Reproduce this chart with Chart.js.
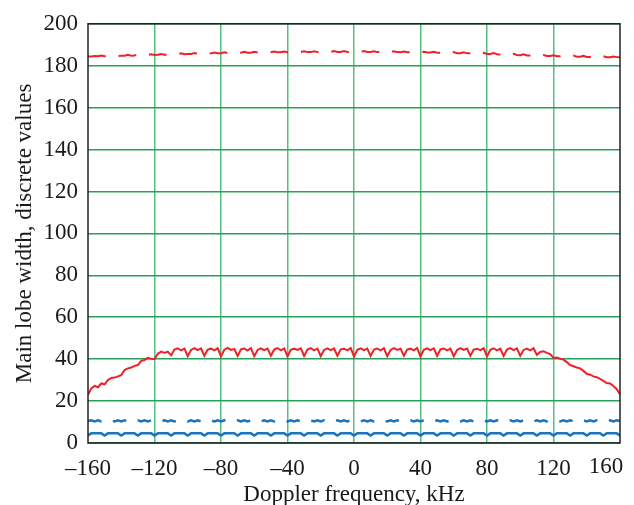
<!DOCTYPE html>
<html>
<head>
  <title>Main lobe width</title>
  <script src="https://cdn.jsdelivr.net/npm/chart.js"></script>
  <style>
    body {
      margin: 0;
      padding: 0;
      background-color: white;
    }

    .container {
      width: 634px;
      height: 505px;
    }
  </style>
</head>
<body>
  <div class="container">
    <canvas id="lobeChart" width="634" height="505"></canvas>
  </div>
  <script>
    // Doppler frequency grid, kHz
    const freq = [
      -160, -158, -156, -154, -152, -150, -148, -146, -144, -142,
      -140, -138, -136, -134, -132, -130, -128, -126, -124, -122,
      -120, -118, -116, -114, -112, -110, -108, -106, -104, -102,
      -100, -98, -96, -94, -92, -90, -88, -86, -84, -82,
      -80, -78, -76, -74, -72, -70, -68, -66, -64, -62,
      -60, -58, -56, -54, -52, -50, -48, -46, -44, -42,
      -40, -38, -36, -34, -32, -30, -28, -26, -24, -22,
      -20, -18, -16, -14, -12, -10, -8, -6, -4, -2,
      0, 2, 4, 6, 8, 10, 12, 14, 16, 18,
      20, 22, 24, 26, 28, 30, 32, 34, 36, 38,
      40, 42, 44, 46, 48, 50, 52, 54, 56, 58,
      60, 62, 64, 66, 68, 70, 72, 74, 76, 78,
      80, 82, 84, 86, 88, 90, 92, 94, 96, 98,
      100, 102, 104, 106, 108, 110, 112, 114, 116, 118,
      120, 122, 124, 126, 128, 130, 132, 134, 136, 138,
      140, 142, 144, 146, 148, 150, 152, 154, 156, 158,
      160
    ];

    // red dashed, upper curve
    const redDashed = [
      184.4, 184.4, 184.6, 184.5, 184.9, 184.5, 184.5, 184.6, 185.0, 184.6,
      184.7, 184.8, 185.2, 184.8, 184.9, 185.4, 185.0, 185.0, 185.1, 185.5,
      185.1, 185.2, 185.6, 185.2, 185.3, 185.7, 185.3, 185.4, 185.9, 185.5,
      185.6, 185.6, 186.0, 185.7, 185.8, 186.2, 185.8, 185.9, 186.3, 186.0,
      186.0, 186.4, 186.0, 186.1, 186.5, 186.1, 186.2, 186.6, 186.2, 186.2,
      186.6, 186.3, 186.3, 186.7, 186.3, 186.4, 186.8, 186.4, 186.4, 186.8,
      186.4, 186.5, 186.9, 186.5, 186.5, 186.9, 186.5, 186.5, 186.9, 186.5,
      186.6, 187.0, 186.6, 186.6, 187.0, 186.6, 186.6, 187.0, 186.6, 186.6,
      187.0, 186.6, 186.6, 187.0, 186.6, 186.6, 186.9, 186.5, 186.5, 186.9,
      186.5, 186.5, 186.9, 186.5, 186.4, 186.8, 186.4, 186.4, 186.8, 186.4,
      186.3, 186.7, 186.3, 186.3, 186.6, 186.2, 186.2, 186.6, 186.1, 186.1,
      186.5, 186.0, 186.0, 186.4, 185.9, 185.9, 186.3, 185.8, 185.7, 186.2,
      185.6, 185.6, 186.0, 185.5, 185.4, 185.8, 185.3, 185.2, 185.7, 185.1,
      185.0, 185.4, 184.9, 184.9, 185.3, 184.8, 184.7, 185.1, 184.6, 184.6,
      185.0, 184.5, 184.5, 184.9, 184.4, 184.4, 184.8, 184.3, 184.3, 184.7,
      184.2, 184.2, 184.6, 184.2, 184.1, 184.5, 184.1, 184.1, 184.4, 184.1,
      184.0
    ];

    // red solid, middle curve
    const redSolid = [
      23.0, 26.0, 27.2, 26.6, 28.4, 28.0, 30.0, 31.0, 31.2, 31.8,
      32.4, 34.8, 35.6, 36.0, 36.8, 37.2, 39.2, 39.6, 40.6, 40.2,
      40.0, 42.6, 43.6, 43.0, 43.6, 41.8, 44.6, 45.2, 44.2, 45.0,
      41.4, 44.4, 45.3, 44.3, 45.1, 41.6, 44.6, 45.0, 44.2, 45.2,
      41.3, 44.5, 45.4, 44.4, 44.9, 41.5, 44.7, 45.1, 44.1, 45.3,
      41.4, 44.4, 45.2, 44.3, 45.0, 41.6, 44.6, 45.3, 44.2, 45.1,
      41.3, 44.5, 45.0, 44.4, 45.2, 41.5, 44.6, 45.3, 44.2, 45.0,
      41.4, 44.4, 45.2, 44.3, 45.1, 41.6, 44.7, 45.0, 44.2, 45.3,
      41.3, 44.5, 45.2, 44.3, 45.0, 41.5, 44.6, 45.1, 44.2, 45.2,
      41.4, 44.4, 45.3, 44.4, 45.0, 41.6, 44.6, 45.0, 44.2, 45.3,
      41.3, 44.5, 45.2, 44.3, 45.1, 41.5, 44.7, 45.1, 44.2, 45.0,
      41.4, 44.4, 45.3, 44.4, 45.1, 41.6, 44.6, 45.0, 44.3, 45.2,
      41.3, 44.5, 45.2, 44.2, 45.0, 41.5, 44.6, 45.3, 44.3, 45.1,
      41.6, 44.4, 45.0, 44.2, 45.2, 42.0, 43.4, 43.8, 43.0, 42.4,
      40.6, 40.8, 40.2, 39.8, 38.6, 37.2, 36.6, 36.0, 35.6, 34.4,
      33.0, 32.6, 31.8, 31.4, 30.6, 29.6, 28.6, 28.4, 27.2, 25.8,
      23.2
    ];

    // blue dashed, lower curve
    const blueDashed = [
      10.5, 10.8, 10.3, 10.8, 10.3, 10.8, 10.3, 10.8, 10.3, 10.8,
      10.3, 10.8, 10.3, 10.8, 10.3, 10.8, 10.3, 10.8, 10.3, 10.8,
      10.3, 10.8, 10.3, 10.8, 10.3, 10.8, 10.3, 10.8, 10.3, 10.8,
      10.3, 10.8, 10.3, 10.8, 10.3, 10.8, 10.3, 10.8, 10.3, 10.8,
      10.3, 10.8, 10.3, 10.8, 10.3, 10.8, 10.3, 10.8, 10.3, 10.8,
      10.3, 10.8, 10.3, 10.8, 10.3, 10.8, 10.3, 10.8, 10.3, 10.8,
      10.3, 10.8, 10.3, 10.8, 10.3, 10.8, 10.3, 10.8, 10.3, 10.8,
      10.3, 10.8, 10.3, 10.8, 10.3, 10.8, 10.3, 10.8, 10.3, 10.8,
      10.3, 10.8, 10.3, 10.8, 10.3, 10.8, 10.3, 10.8, 10.3, 10.8,
      10.3, 10.8, 10.3, 10.8, 10.3, 10.8, 10.3, 10.8, 10.3, 10.8,
      10.3, 10.8, 10.3, 10.8, 10.3, 10.8, 10.3, 10.8, 10.3, 10.8,
      10.3, 10.8, 10.3, 10.8, 10.3, 10.8, 10.3, 10.8, 10.3, 10.8,
      10.3, 10.8, 10.3, 10.8, 10.3, 10.8, 10.3, 10.8, 10.3, 10.8,
      10.3, 10.8, 10.3, 10.8, 10.3, 10.8, 10.3, 10.8, 10.3, 10.8,
      10.3, 10.8, 10.3, 10.8, 10.3, 10.8, 10.3, 10.8, 10.3, 10.8,
      10.3, 10.8, 10.3, 10.8, 10.3, 10.8, 10.3, 10.8, 10.3, 10.8,
      10.5
    ];

    // blue solid, bottom curve
    const blueSolid = [
      3.6, 4.6, 4.6, 4.6, 4.6, 3.6, 4.6, 4.6, 4.6, 4.6,
      3.6, 4.6, 4.6, 4.6, 4.6, 3.6, 4.6, 4.6, 4.6, 4.6,
      3.6, 4.6, 4.6, 4.6, 4.6, 3.6, 4.6, 4.6, 4.6, 4.6,
      3.6, 4.6, 4.6, 4.6, 4.6, 3.6, 4.6, 4.6, 4.6, 4.6,
      3.6, 4.6, 4.6, 4.6, 4.6, 3.6, 4.6, 4.6, 4.6, 4.6,
      3.6, 4.6, 4.6, 4.6, 4.6, 3.6, 4.6, 4.6, 4.6, 4.6,
      3.6, 4.6, 4.6, 4.6, 4.6, 3.6, 4.6, 4.6, 4.6, 4.6,
      3.6, 4.6, 4.6, 4.6, 4.6, 3.6, 4.6, 4.6, 4.6, 4.6,
      3.6, 4.6, 4.6, 4.6, 4.6, 3.6, 4.6, 4.6, 4.6, 4.6,
      3.6, 4.6, 4.6, 4.6, 4.6, 3.6, 4.6, 4.6, 4.6, 4.6,
      3.6, 4.6, 4.6, 4.6, 4.6, 3.6, 4.6, 4.6, 4.6, 4.6,
      3.6, 4.6, 4.6, 4.6, 4.6, 3.6, 4.6, 4.6, 4.6, 4.6,
      3.6, 4.6, 4.6, 4.6, 4.6, 3.6, 4.6, 4.6, 4.6, 4.6,
      3.6, 4.6, 4.6, 4.6, 4.6, 3.6, 4.6, 4.6, 4.6, 4.6,
      3.6, 4.6, 4.6, 4.6, 4.6, 3.6, 4.6, 4.6, 4.6, 4.6,
      3.6, 4.6, 4.6, 4.6, 4.6, 3.6, 4.6, 4.6, 4.6, 4.6,
      3.6
    ];

    const xTickLabels = ['\u2013160', '\u2013120', '\u201380', '\u201340', '0', '40', '80', '120', '160'];
    const xTickValues = [-160, -120, -80, -40, 0, 40, 80, 120, 160];

    const RED = '#f0202a';
    const BLUE = '#1b75bc';
    const INK = '#1a1a1a';
    const FONT = 'Liberation Serif, Times New Roman, serif';

    function pts(ys) {
      return freq.map((f, i) => ({ x: f, y: ys[i] }));
    }

    // frame round the plot area, and the last x label pulled inside
    const framePlugin = {
      id: 'frame',
      afterDraw(chart) {
        const ctx = chart.ctx;
        const a = chart.chartArea;
        const xs = chart.scales.x;
        ctx.save();
        ctx.strokeStyle = '#222';
        ctx.lineWidth = 1.5;
        ctx.strokeRect(a.left, a.top, a.right - a.left, a.bottom - a.top);
        ctx.fillStyle = INK;
        ctx.font = '23px ' + FONT;
        ctx.textAlign = 'center';
        ctx.textBaseline = 'middle';
        const last = xTickValues.length - 1;
        ctx.fillText(xTickLabels[last], xs.getPixelForValue(xTickValues[last]) - 14, a.bottom + 24);
        ctx.restore();
      }
    };

    const ctx = document.getElementById('lobeChart').getContext('2d');
    new Chart(ctx, {
      type: 'line',
      data: {
        datasets: [
          { data: pts(redDashed), borderColor: RED, borderWidth: 2, borderDash: [18, 13] },
          { data: pts(redSolid), borderColor: RED, borderWidth: 2 },
          { data: pts(blueDashed), borderColor: BLUE, borderWidth: 2.5, borderDash: [14, 12] },
          { data: pts(blueSolid), borderColor: BLUE, borderWidth: 2.5 }
        ]
      },
      options: {
        responsive: false,
        animation: false,
        layout: { padding: { top: 17, right: 14, left: 11, bottom: 0 } },
        elements: { point: { radius: 0 }, line: { tension: 0 } },
        plugins: { legend: { display: false }, tooltip: { enabled: false } },
        scales: {
          x: {
            type: 'linear',
            min: -160,
            max: 160,
            border: { display: false },
            grid: {
              drawTicks: false,
              lineWidth: 1.5,
              color: c => (c.tick && Math.abs(c.tick.value) === 160) ? 'rgba(0,0,0,0)' : '#52c07f'
            },
            afterBuildTicks: s => { s.ticks = xTickValues.map(v => ({ value: v })); },
            afterFit: s => { s.height = 62; },
            ticks: {
              color: INK,
              padding: 14,
              maxRotation: 0,
              font: { family: FONT, size: 23, lineHeight: 1.0 },
              callback: v => {
                const i = xTickValues.indexOf(v);
                return i === xTickLabels.length - 1 ? '' : xTickLabels[i];
              }
            },
            title: {
              display: true,
              text: 'Doppler frequency, kHz',
              color: INK,
              font: { family: FONT, size: 23, lineHeight: 0.85 },
              padding: { top: 0, bottom: 0 }
            }
          },
          y: {
            min: 0,
            max: 200,
            border: { display: false },
            grid: {
              drawTicks: false,
              lineWidth: 1.5,
              color: '#27a05a'
            },
            afterFit: s => { s.width = 77; },
            ticks: {
              stepSize: 20,
              color: INK,
              padding: 10,
              font: { family: FONT, size: 23 }
            },
            title: {
              display: true,
              text: 'Main lobe width, discrete values',
              color: INK,
              font: { family: FONT, size: 23 },
              padding: { top: 0, bottom: 0 }
            }
          }
        }
      },
      plugins: [framePlugin]
    });
  </script>
</body>
</html>
